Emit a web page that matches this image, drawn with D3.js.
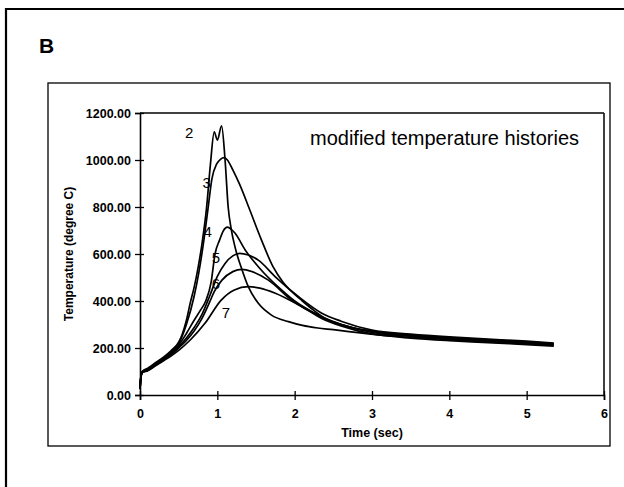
<!DOCTYPE html>
<html>
<head>
<meta charset="utf-8">
<script src="https://cdn.jsdelivr.net/npm/d3@7"></script>
<style>
  html, body { margin: 0; padding: 0; background: #fff; }
  svg { display: block; }
  text { font-family: "Liberation Sans", Arial, Helvetica, sans-serif; fill: #000; }
</style>
</head>
<body>
<svg id="chart" width="624" height="487"></svg>
<script>
// ---- data ----
const xTicks = [0, 1, 2, 3, 4, 5, 6];
const yTicks = [0, 200, 400, 600, 800, 1000, 1200];

const t2 = [0, 0.01, 0.03, 0.1, 0.2, 0.3, 0.4, 0.5, 0.55, 0.6, 0.65, 0.7, 0.75, 0.8, 0.86, 0.91, 0.96, 1.0, 1.055, 1.1, 1.14, 1.18, 1.23, 1.32, 1.4, 1.53, 1.7, 1.92, 2.1, 2.3, 2.5, 2.7, 2.93, 3.2, 3.5, 4.0, 4.5, 5.0, 5.35];
const T2 = [25, 72, 100, 114, 137, 160, 188, 225, 262, 318, 392, 458, 540, 640, 794, 979, 1120, 1085, 1145, 1000, 800, 705, 628, 532, 461, 390, 340, 312, 296, 285, 278, 270, 261, 252, 242, 231, 223, 214, 208];

const t3 = [0, 0.01, 0.03, 0.1, 0.2, 0.3, 0.4, 0.5, 0.6, 0.7, 0.76, 0.82, 0.88, 0.93, 0.99, 1.04, 1.09, 1.13, 1.2, 1.29, 1.42, 1.57, 1.72, 1.85, 1.94, 2.1, 2.24, 2.4, 2.5, 2.7, 3.0, 3.5, 4.0, 4.5, 5.0, 5.35];
const T3 = [25, 72, 98, 111, 133, 156, 182, 218, 300, 420, 520, 645, 794, 920, 982, 1003, 1010, 1000, 958, 895, 787, 660, 546, 480, 447, 400, 362, 325, 309, 290, 272, 255, 244, 235, 226, 219];

const t4 = [0, 0.01, 0.03, 0.1, 0.2, 0.3, 0.4, 0.5, 0.6, 0.7, 0.78, 0.85, 0.92, 0.97, 1.03, 1.08, 1.13, 1.18, 1.23, 1.36, 1.53, 1.83, 2.0, 2.26, 2.41, 2.6, 3.0, 3.5, 4.0, 4.5, 5.0, 5.35];
const T4 = [25, 71, 99, 110, 132, 154, 178, 212, 262, 318, 360, 400, 480, 600, 660, 700, 714, 705, 688, 617, 546, 447, 400, 348, 322, 300, 270, 253, 242, 233, 224, 217];

const t5 = [0, 0.01, 0.03, 0.1, 0.2, 0.3, 0.4, 0.5, 0.6, 0.7, 0.8, 0.9, 1.0, 1.1, 1.2, 1.29, 1.4, 1.53, 1.75, 2.05, 2.35, 2.6, 3.0, 3.5, 4.0, 4.5, 5.0, 5.35];
const T5 = [25, 70, 97, 106, 128, 150, 175, 205, 242, 287, 342, 420, 505, 560, 592, 603, 596, 574, 503, 418, 348, 314, 276, 259, 247, 238, 229, 221];

const t6 = [0, 0.01, 0.03, 0.1, 0.2, 0.3, 0.4, 0.5, 0.6, 0.7, 0.8, 0.9, 0.96, 1.06, 1.2, 1.32, 1.45, 1.66, 1.96, 2.35, 2.6, 3.0, 3.5, 4.0, 4.5, 5.0, 5.35];
const T6 = [25, 70, 96, 104, 126, 148, 172, 200, 232, 272, 325, 395, 440, 489, 525, 535, 525, 489, 404, 333, 301, 266, 250, 239, 230, 221, 214];

const t7 = [0, 0.01, 0.03, 0.1, 0.2, 0.3, 0.4, 0.5, 0.65, 0.84, 1.05, 1.22, 1.4, 1.55, 1.75, 2.09, 2.35, 2.6, 3.0, 3.5, 4.0, 4.5, 5.0, 5.35];
const T7 = [25, 70, 95, 103, 124, 145, 166, 190, 234, 305, 404, 447, 461, 455, 433, 376, 326, 294, 260, 246, 235, 226, 217, 211];

const seriesNames = ["2", "3", "4", "5", "6", "7"];
const seriesTimes = [t2, t3, t4, t5, t6, t7];
const seriesTemps = [T2, T3, T4, T5, T6, T7];
// label centre positions in data units (time, temperature)
const labelT = [0.637, 0.863, 0.876, 0.983, 0.983, 1.11];
const labelY = [1113, 903, 695, 584, 471, 348];

const titleText = "modified temperature histories";
const xTitle = "Time (sec)";
const yTitle = "Temperature (degree C)";

// ---- drawing ----
const svg = d3.select("#chart");

// outer frame (left and top edges)
svg.append("line").attr("x1", 6).attr("y1", 8).attr("x2", 6).attr("y2", 487)
  .attr("stroke", "#000").attr("stroke-width", 2.2);
svg.append("line").attr("x1", 5).attr("y1", 9).attr("x2", 624).attr("y2", 9)
  .attr("stroke", "#000").attr("stroke-width", 2.2);

svg.append("text").attr("x", 39).attr("y", 53)
  .style("font-size", "21px").style("font-weight", "bold").text("B");

// inner frame
svg.append("rect").attr("x", 48).attr("y", 83).attr("width", 562).attr("height", 363)
  .attr("fill", "none").attr("stroke", "#000").attr("stroke-width", 1.3);

const x = d3.scaleLinear().domain([0, 6]).range([140, 604]);
const y = d3.scaleLinear().domain([0, 1200]).range([395, 113]);

// plot box top/right
svg.append("line").attr("x1", x(0)).attr("x2", x(6)).attr("y1", y(1200)).attr("y2", y(1200))
  .attr("stroke", "#000").attr("stroke-width", 1.5);
svg.append("line").attr("x1", x(6)).attr("x2", x(6)).attr("y1", y(1200)).attr("y2", y(0))
  .attr("stroke", "#000").attr("stroke-width", 1.5);

// y axis
const gy = svg.append("g").attr("transform", `translate(${x(0)},0)`)
  .call(d3.axisLeft(y).tickValues(yTicks).tickFormat(d => d.toFixed(2)).tickSize(5).tickPadding(4));
gy.select(".domain").attr("stroke-width", 1.6);
gy.selectAll(".tick line").attr("x1", 4).attr("stroke-width", 1.3);
gy.selectAll(".tick text").style("font-size", "12.5px").style("font-weight", "bold")
  .style("font-family", "'Liberation Sans', Arial, sans-serif").attr("fill", "#000");

// x axis
const gx = svg.append("g").attr("transform", `translate(0,${y(0)})`)
  .call(d3.axisBottom(x).tickValues(xTicks).tickFormat(d3.format("d")).tickSize(5).tickPadding(9));
gx.select(".domain").attr("stroke-width", 1.6);
gx.selectAll(".tick line").attr("y1", -4).attr("stroke-width", 1.3);
gx.selectAll(".tick text").style("font-size", "12.5px").style("font-weight", "bold")
  .style("font-family", "'Liberation Sans', Arial, sans-serif").attr("fill", "#000");
gy.selectAll("path.domain, .tick line").attr("stroke", "#000");
gx.selectAll("path.domain, .tick line").attr("stroke", "#000");

// axis titles
svg.append("text").attr("x", x(3)).attr("y", 437).attr("text-anchor", "middle")
  .style("font-size", "12.5px").style("font-weight", "bold").text(xTitle);
svg.append("text").attr("transform", `translate(73,${(y(0) + y(1200)) / 2}) rotate(-90)`)
  .attr("text-anchor", "middle")
  .style("font-size", "12px").style("font-weight", "bold").text(yTitle);

// curves
const line = d3.line().x(d => x(d[0])).y(d => y(d[1])).curve(d3.curveMonotoneX);
seriesTimes.forEach((ts, i) => {
  const pts = ts.map((t, j) => [t, seriesTemps[i][j]]);
  svg.append("path").datum(pts).attr("d", line)
    .attr("fill", "none").attr("stroke", "#000").attr("stroke-width", 1.7)
    .attr("stroke-linejoin", "round");
});

// curve labels
seriesNames.forEach((n, i) => {
  svg.append("text").attr("x", x(labelT[i])).attr("y", y(labelY[i]) + 5)
    .attr("text-anchor", "middle").style("font-size", "15px").text(n);
});

// annotation
svg.append("text").attr("x", 310).attr("y", 145)
  .style("font-size", "20px").text(titleText);
</script>
</body>
</html>
